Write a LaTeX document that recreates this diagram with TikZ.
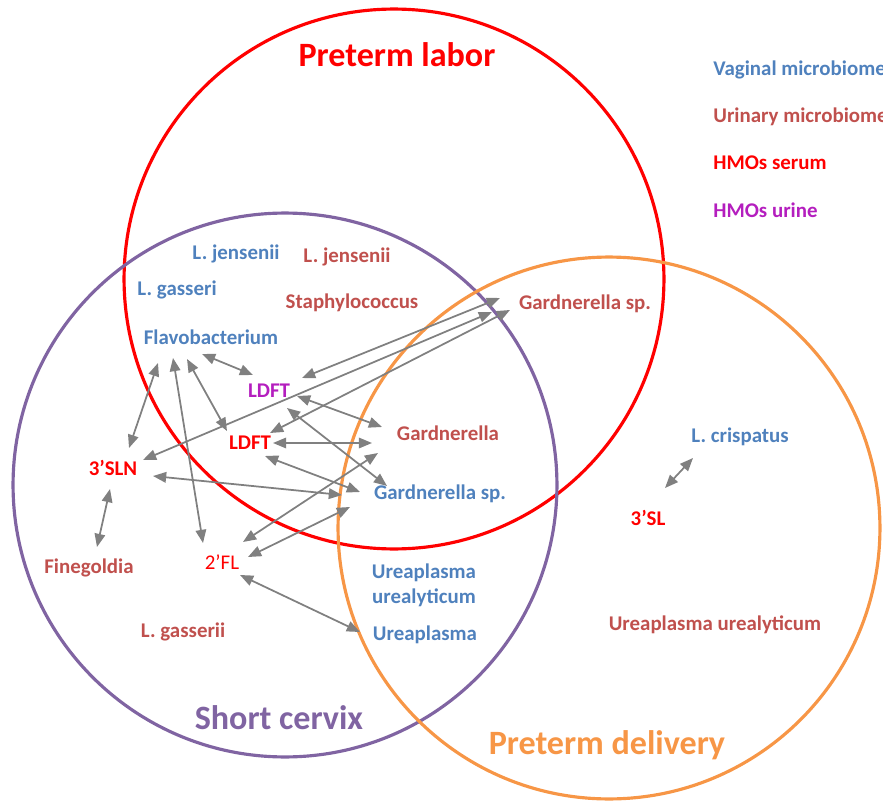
\documentclass[tikz,border=0pt]{standalone}
\usepackage{fontspec}
\setmainfont{Carlito}
\usepackage{tikz}
\usetikzlibrary{arrows.meta}
\tikzset{every node/.append style={align=center}}
\definecolor{vagcol}{RGB}{79,129,189}
\definecolor{urcol}{RGB}{192,80,77}
\definecolor{sercol}{RGB}{255,0,0}
\definecolor{uricol}{RGB}{180,30,190}
\definecolor{sccol}{RGB}{128,100,162}
\definecolor{ptdcol}{RGB}{247,150,70}
\definecolor{arrcol}{RGB}{128,128,128}
\tikzset{
  lbl/.style={font=\fontsize{11.9}{14.2}\selectfont\bfseries, inner sep=0pt},
  ttl/.style={font=\fontsize{19.4}{22}\selectfont\bfseries, inner sep=0pt},
  link/.style={arrcol, line width=1pt,
    {Triangle[length=7.5pt,width=6pt]}-{Triangle[length=7.5pt,width=6pt]}},
}

\begin{document}
\begin{tikzpicture}[x=0.02cm,y=-0.02cm]
\useasboundingbox (0,0) rectangle (883,801);

% ── Three sets ───────────────────────────────────────────────────────────────
\draw[sercol, line width=1.8pt] (394,279) circle[radius=5.40cm];
\draw[sccol,  line width=1.8pt] (285,485) circle[radius=5.44cm];
\draw[ptdcol, line width=1.8pt] (609,528) circle[radius=5.42cm];

\node[ttl, sercol] (ptl) at (397,55)  {Preterm labor};
\node[ttl, sccol]  (sc)  at (279,718) {Short cervix};
\node[ttl, ptdcol] (ptd) at (607,745) {Preterm delivery};

% ── Legend ───────────────────────────────────────────────────────────────────
\foreach \y/\col/\txt in {70/vagcol/Vaginal microbiome, 117/urcol/Urinary microbiome,
                           163/sercol/HMOs serum, 210/uricol/HMOs urine} {
  \node[lbl, \col, anchor=west] at (713,\y) {\txt};
}

% ── Microbes and HMOs ────────────────────────────────────────────────────────
\node[lbl, vagcol] (jenv)    at (236,254) {L. jensenii};
\node[lbl, urcol]  (jenu)    at (347,257) {L. jensenii};
\node[lbl, vagcol] (gasv)    at (177,290) {L. gasseri};
\node[lbl, urcol]  (staph)   at (352,303) {Staphylococcus};
\node[lbl, urcol]  (gardspu) at (585,304) {Gardnerella sp.};
\node[lbl, vagcol] (flav)    at (211,337) {Flavobacterium};
\node[lbl, uricol] (ldftm)   at (269,391) {LDFT};
\node[lbl, sercol] (ldftr)   at (250,443) {LDFT};
\node[lbl, urcol]  (gardu)   at (448,433) {Gardnerella};
\node[lbl, vagcol] (crisp)   at (740,437) {L. crispatus};
\node[lbl, sercol] (sln)     at (113,468) {3’SLN};
\node[lbl, vagcol] (gardspb) at (440,494) {Gardnerella sp.};
\node[lbl, sercol] (sl)      at (648,518) {3’SL};
\node[lbl, urcol]  (fine)    at (89,568)  {Finegoldia};
\node[lbl, sercol, font=\fontsize{11.9}{14.2}\selectfont] (fl) at (222,562) {2’FL};
\node[lbl, vagcol] (ureauv)  at (424,585) {Ureaplasma\\urealyticum};
\node[lbl, urcol]  (gasu)    at (183,632) {L. gasserii};
\node[lbl, vagcol] (urea)    at (425,635) {Ureaplasma};
\node[lbl, urcol]  (ureauu)  at (715,625) {Ureaplasma urealyticum};

% ── Associations ─────────────────────────────────────────────────────────────
\foreach \a/\ax/\ay/\b/\bx/\by in {
    flav/-9/17/ldftm/-16/-16,   flav/-53/26/sln/16/-20,
    flav/-38/21/fl/-19/-19,     flav/-24/22/ldftr/-23/-12,
    sln/-3/21/fine/8/-21,       sln/40/8/gardspb/-98/1,
    ldftr/23/0/gardu/-76/10,    ldftr/15/13/gardspb/-80/-2,
    ldftm/28/5/gardu/-66/-6,    ldftm/18/17/gardspb/-53/-8,
    fl/21/-20/gardu/-70/20,     fl/26/-5/gardspb/-90/13,
    fl/18/13/urea/-65/-3,       ldftm/33/-13/gardspu/-85/-6,
    sln/30/-8/gardspu/-93/8,    ldftr/20/-10/gardspu/-75/6,
    crisp/-47/21/sl/17/-30} {
  \draw[link] ([shift={(\ax,\ay)}]\a.center) -- ([shift={(\bx,\by)}]\b.center);
}

\end{tikzpicture}
\end{document}
